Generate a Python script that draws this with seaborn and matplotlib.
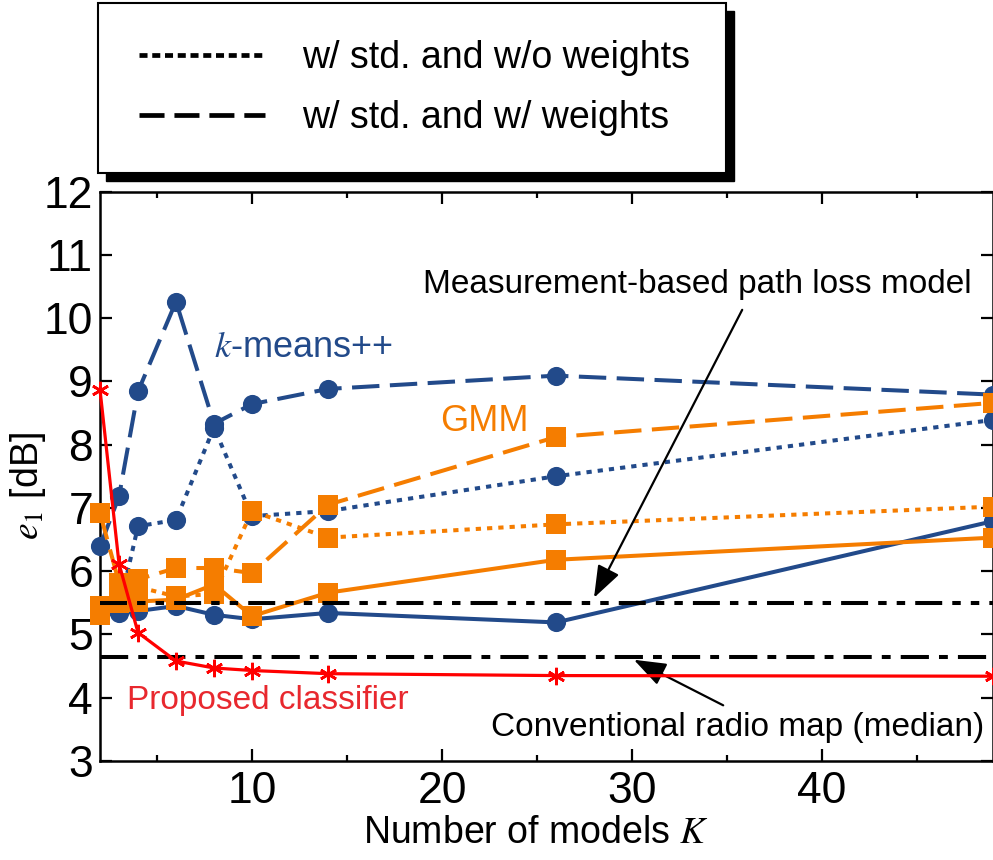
import matplotlib
matplotlib.use("Agg")
import matplotlib.pyplot as plt
import seaborn as sns
import pandas as pd
from matplotlib.lines import Line2D
from matplotlib.patches import Rectangle
from matplotlib.ticker import FixedLocator

# ---------------- data ----------------
K = [2, 3, 4, 6, 8, 10, 14, 26, 49]
proposed = [8.87, 6.12, 5.03, 4.58, 4.47, 4.43, 4.38, 4.35, 4.34]
km_std_w = [6.39, 7.18, 8.84, 10.26, 8.33, 8.64, 8.88, 9.09, 8.79]
km_std_nw = [5.45, 5.40, 6.71, 6.81, 8.27, 6.87, 6.95, 7.50, 8.39]
km_plain = [5.30, 5.34, 5.37, 5.45, 5.31, 5.24, 5.34, 5.19, 6.79]
gmm_std_w = [6.92, 5.82, 5.87, 6.05, 6.05, 5.97, 7.05, 8.12, 8.66]
gmm_std_nw = [5.45, 5.65, 5.75, 5.60, 5.64, 6.95, 6.53, 6.74, 7.02]
gmm_plain = [5.30, 5.50, 5.52, 5.55, 5.79, 5.29, 5.66, 6.18, 6.53]
measurement_model = 5.50
conventional_map = 4.65

xticks = [10, 20, 30, 40]
xminor = [5, 15, 25, 35, 45]
yticks = [3, 4, 5, 6, 7, 8, 9, 10, 11, 12]
legend_labels = ["w/ std. and w/o weights", "w/ std. and w/ weights"]

# ---------------- style ----------------
sns.set_style("ticks")
plt.rcParams["font.family"] = ["Liberation Sans", "DejaVu Sans"]
plt.rcParams["mathtext.fontset"] = "stix"
plt.rcParams["text.color"] = "black"
plt.rcParams["axes.labelcolor"] = "black"
plt.rcParams["xtick.color"] = "black"
plt.rcParams["ytick.color"] = "black"

BLUE = "#224a8a"
ORANGE = "#f57d00"
RED = "#ff0000"
RED_TXT = "#e8282e"

DOT = (0, (1.3, 1.5))
DASH = (0, (6.8, 2.6))
DASHDOT = (0, (7.0, 2.5, 2.2, 2.5))
DASHDOTDOT = (0, (6.7, 2.5, 2.1, 2.5, 2.1, 2.5))

W, H = 993, 860
fig = plt.figure(figsize=(W / 100, H / 100), dpi=100)
ax = fig.add_axes([100 / W, 1 - 761 / H, 893 / W, (761 - 191.5) / H])

LW = 2.9
MS = 13.8

series = [
    (km_plain, BLUE, "-", "o"),
    (km_std_nw, BLUE, DOT, "o"),
    (km_std_w, BLUE, DASH, "o"),
    (gmm_plain, ORANGE, "-", "s"),
    (gmm_std_nw, ORANGE, DOT, "s"),
    (gmm_std_w, ORANGE, DASH, "s"),
]
for vals, col, ls, mk in series:
    df = pd.DataFrame({"K": K, "e1": vals})
    sns.lineplot(data=df, x="K", y="e1", ax=ax, color=col, linestyle=ls,
                 linewidth=LW, marker=mk, markersize=MS, markeredgewidth=0,
                 markerfacecolor=col, clip_on=False, zorder=3)

ax.axhline(measurement_model, color="black", lw=2.9, linestyle=DASHDOTDOT, zorder=4)
ax.axhline(conventional_map, color="black", lw=2.9, linestyle=DASHDOT, zorder=4)

dfp = pd.DataFrame({"K": K, "e1": proposed})
sns.lineplot(data=dfp, x="K", y="e1", ax=ax, color=RED, linestyle="-",
             linewidth=2.3, marker=(6, 2, 0), markersize=12.5,
             markeredgewidth=1.9, markeredgecolor=RED, clip_on=False, zorder=5)

# ---------------- axes ----------------
ax.set_xlim(2, 49)
ax.set_ylim(3, 12)
ax.xaxis.set_major_locator(FixedLocator(xticks))
ax.xaxis.set_minor_locator(FixedLocator(xminor))
ax.yaxis.set_major_locator(FixedLocator(yticks))
ax.tick_params(which="both", direction="in", top=True, right=True,
               width=1.6, labelsize=32, colors="black")
ax.tick_params(which="major", length=8.6)
ax.tick_params(which="minor", length=4.3)
ax.tick_params(axis="x", pad=7)
ax.tick_params(axis="y", pad=5)
for s in ax.spines.values():
    s.set_linewidth(1.8)
    s.set_color("black")

ax.set_xlabel(r"Number of models $K$", fontsize=27, color="black")
ax.set_ylabel(r"$e_1$ [dB]", fontsize=27, color="black")
ax.xaxis.set_label_coords((536 - 100) / 893, (761 - 833) / 569.5)
ax.xaxis.label.set_va("center")
ax.yaxis.set_label_coords((28 - 100) / 893, (761 - 486) / 569.5)
ax.yaxis.label.set_va("center")

# ---------------- texts and arrows ----------------
ax.text(7.99, 9.39, r"$k$-means++", color=BLUE, fontsize=26, va="baseline", ha="left")
ax.text(19.9, 8.21, "GMM", color=ORANGE, fontsize=26, va="baseline", ha="left")
ax.text(3.43, 3.82, "Proposed classifier", color=RED_TXT, fontsize=24,
        va="baseline", ha="left")
ax.text(47.87, 10.40, "Measurement-based path loss model", color="black",
        fontsize=24, va="baseline", ha="right")
ax.text(48.55, 3.39, "Conventional radio map (median)", color="black",
        fontsize=24, va="baseline", ha="right")

arrow_kw = dict(arrowstyle="-|>,head_length=0.9,head_width=0.33", color="black",
                lw=1.6, mutation_scale=22, shrinkA=0, shrinkB=0)
ax.annotate("", xy=(28.0, 5.58), xytext=(35.8, 10.13), arrowprops=arrow_kw)
ax.annotate("", xy=(30.1, 4.60), xytext=(34.8, 3.88), arrowprops=arrow_kw)

# ---------------- legend (figure level, boxed with shadow) ----------------
bx0, bx1, by0, by1 = 98, 726, 3, 173
off = 8
fig.patches.append(Rectangle(((bx0 + off) / W, 1 - (by1 + off) / H),
                             (bx1 - bx0) / W, (by1 - by0) / H,
                             transform=fig.transFigure, facecolor="black",
                             edgecolor="black", zorder=1))
fig.patches.append(Rectangle((bx0 / W, 1 - by1 / H), (bx1 - bx0) / W,
                             (by1 - by0) / H, transform=fig.transFigure,
                             facecolor="white", edgecolor="black", lw=1.5,
                             zorder=2))
handles = [Line2D([], [], color="black", lw=3.4, linestyle=(0, (1.7, 1.0))),
           Line2D([], [], color="black", lw=3.4, linestyle=(0, (5.3, 2.1)))]
leg = fig.legend(handles, legend_labels, loc="center left",
                 bbox_to_anchor=(138.5 / W, 1 - 88 / H), frameon=False,
                 fontsize=27, handlelength=3.38, handletextpad=0.99,
                 labelspacing=0.62, borderpad=0, borderaxespad=0,
                 labelcolor="black")
leg.set_zorder(3)

fig.savefig("out.png", dpi=100)
